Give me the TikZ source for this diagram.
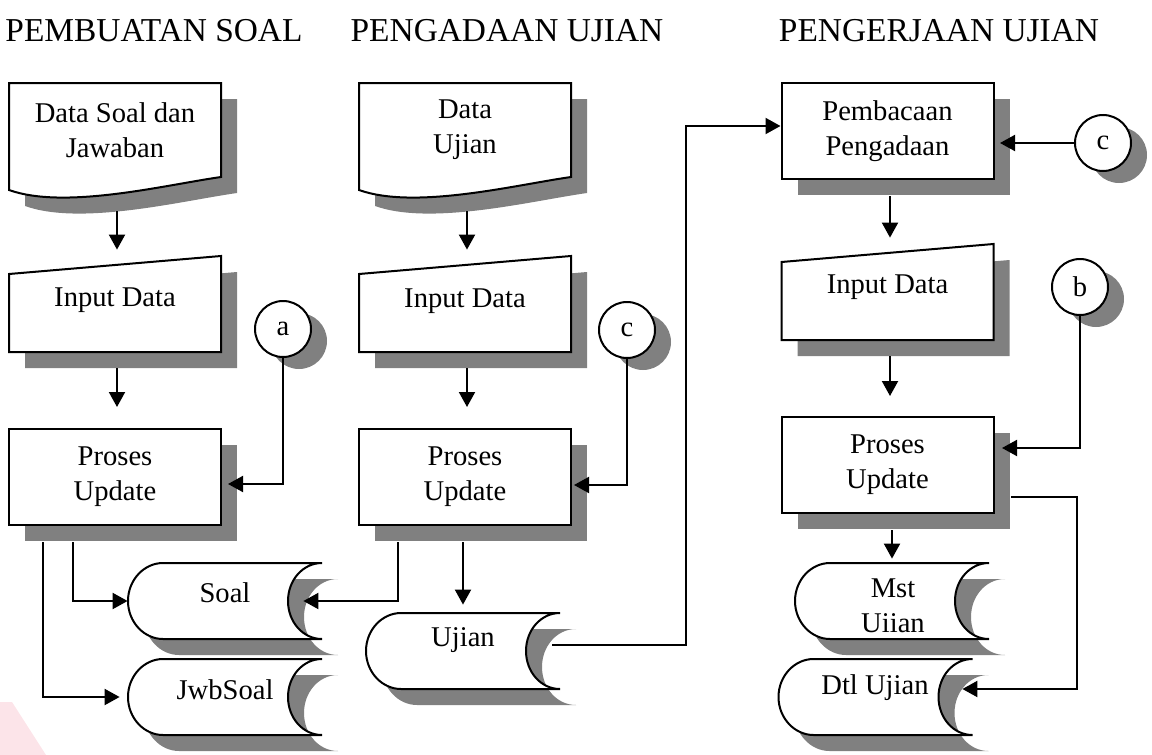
\documentclass[tikz,border=0pt]{standalone}
\usepackage{fontspec}
\setmainfont{Liberation Serif}
\usetikzlibrary{arrows.meta,shadows,calc}
\definecolor{shadowgray}{RGB}{128,128,128}
\definecolor{markpink}{RGB}{252,228,233}

\tikzset{
  lbl/.style={font=\fontsize{14.3}{17.5}\selectfont, align=center, inner sep=0pt},
  head/.style={font=\fontsize{16.7}{19}\selectfont, inner sep=0pt},
  outline/.style={draw=black, fill=white, line width=1pt},
  shadowfill/.style={fill=shadowgray, draw=none},
  procbox/.style={outline, rectangle, minimum width=106pt, minimum height=48pt,
    inner sep=0pt, lbl,
    drop shadow={shadow xshift=8pt, shadow yshift=-8pt, fill=shadowgray, opacity=1}},
  conn/.style={outline, circle, minimum size=28pt, inner sep=0pt, lbl,
    drop shadow={shadow xshift=8pt, shadow yshift=-6pt, fill=shadowgray, opacity=1}},
  holder/.style 2 args={rectangle, draw=none, inner sep=0pt,
    minimum width=#1, minimum height=#2},
  flow/.style={line width=1pt, -{Triangle[length=7.5pt,width=8pt]}},
}

% a shape drawn twice around a node centre: grey copy offset, then white outline
\newcommand\shadowed[2]{%
  \path[shadowfill, shift={($(#1.center)+(16,16)$)}] #2;
  \path[outline, shift={(#1.center)}] #2;}
\newcommand\docshape[1]{\shadowed{#1}{(-106,-57) -- (106,-57) -- (106,37)
  .. controls (50,45) and (-50,70) .. (-106,50) -- cycle}}
\newcommand\inshape[1]{\shadowed{#1}{(-106,-30) -- (106,-48) -- (106,48)
  -- (-106,48) -- cycle}}
\newcommand\storeshape[1]{\shadowed{#1}{(-62,-38) -- (97,-38)
  .. controls (78,-38) and (63,-21) .. (63,0)
  .. controls (63,21) and (78,38) .. (97,38) -- (-62,38)
  .. controls (-81,38) and (-97,21) .. (-97,0)
  .. controls (-97,-21) and (-81,-38) .. (-62,-38) -- cycle}}

\begin{document}
\begin{tikzpicture}[x=0.5pt, y=-0.5pt]
\useasboundingbox (0,0) rectangle (1152,755);
\fill[markpink] (0,702) -- (12,702) -- (46,755) -- (0,755) -- cycle;

% column headings
\node[head] (h1) at (154,31) {PEMBUATAN SOAL};
\node[head] (h2) at (507,31) {PENGADAAN UJIAN};
\node[head] (h3) at (939,31) {PENGERJAAN UJIAN};

% documents
\node[holder={106pt}{57pt}] (d1) at (115,140) {};
\docshape{d1}
\node[lbl] (d1t) at (115,130) {Data Soal dan\\Jawaban};
\node[holder={106pt}{57pt}] (d2) at (465,140) {};
\docshape{d2}
\node[lbl] (d2t) at (465,130) {Data\\Ujian};

% manual inputs
\node[holder={106pt}{48pt}] (i1) at (115,304) {};
\inshape{i1}
\node[lbl] (i1t) at (115,300) {Input Data};
\node[holder={106pt}{48pt}] (i2) at (465,304) {};
\inshape{i2}
\node[lbl] (i2t) at (465,301) {Input Data};
\node[holder={106pt}{48pt}] (i3) at (887.5,292) {};
\inshape{i3}
\node[lbl] (i3t) at (887.5,287) {Input Data};

% processes
\node[procbox] (p1) at (115,477) {Proses\\Update};
\node[procbox] (p2) at (465,477) {Proses\\Update};
\node[procbox] (pb) at (887.5,131) {Pembacaan\\Pengadaan};
\node[procbox] (p3) at (887.5,465) {Proses\\Update};

% off-page connectors
\node[conn] (ca) at (283,329) {a};
\node[conn] (cc1) at (627,330) {c};
\node[conn] (cc2) at (1103,143) {c};
\node[conn] (cb) at (1080,287) {b};

% stored data
\node[holder={97pt}{38pt}] (s1) at (225,601) {};
\storeshape{s1}
\node[lbl] (s1t) at (225,593) {Soal};
\node[holder={97pt}{38pt}] (s2) at (225,697) {};
\storeshape{s2}
\node[lbl] (s2t) at (225,690) {JwbSoal};
\node[holder={97pt}{38pt}] (s3) at (463,651) {};
\storeshape{s3}
\node[lbl] (s3t) at (463,640) {Ujian};
\node[holder={97pt}{38pt}] (s4) at (892,601) {};
\storeshape{s4}
\node[lbl] (s4t) at (893,606) {Mst\\Uiian};
\node[holder={97pt}{38pt}] (s5) at (875.5,697) {};
\storeshape{s5}
\node[lbl] (s5t) at (875,688) {Dtl Ujian};

% flow lines
\draw[flow] ([xshift=1pt,yshift=-7pt]d1.south) -- ([xshift=1pt,yshift=3pt]i1.north);
\draw[flow] ([xshift=1pt,yshift=-7pt]d2.south) -- ([xshift=1pt,yshift=3pt]i2.north);
\draw[flow] ([xshift=1pt,yshift=-8pt]i1.south) -- ([xshift=1pt,yshift=10.5pt]p1.north);
\draw[flow] ([xshift=1pt,yshift=-8pt]i2.south) -- ([xshift=1pt,yshift=10.5pt]p2.north);
\draw[flow] (ca.south) |- ([xshift=3pt,yshift=-3.5pt]p1.east);
\draw[flow] (cc1.south) |- ([xshift=1pt,yshift=-4pt]p2.east);
\draw[flow] ([xshift=-21pt,yshift=-8pt]p1.south) |- (s1.west);
\draw[flow, shorten >=4pt] ([xshift=-36pt,yshift=-8pt]p1.south) |- (s2.west);
\draw[flow] ([xshift=-33.5pt,yshift=-8pt]p2.south) |- ([xshift=-9.5pt]s1.east);
\draw[flow] ([xshift=-1pt,yshift=-8pt]p2.south) -- ([yshift=4pt]s3.north);
\draw[flow] ([xshift=-4pt,yshift=3pt]s3.east) -- ++(134,0) |- ([yshift=2.5pt]pb.west);
\draw[flow] (cc2.west) -- ([xshift=2.75pt,yshift=-6pt]pb.east);
\draw[flow] ([xshift=1.25pt,yshift=-8pt]pb.south) -- ([xshift=1.25pt,yshift=3pt]i3.north);
\draw[flow] ([xshift=1.25pt,yshift=-8pt]i3.south) -- ([xshift=1.25pt,yshift=10pt]p3.north);
\draw[flow] (cb.south) |- ([xshift=3.75pt,yshift=8.5pt]p3.east);
\draw[flow] ([xshift=8.25pt,yshift=-16pt]p3.east) -- ++(66,0) |- ([xshift=-5.25pt,yshift=4pt]s5.east);
\draw[flow] ([xshift=2.25pt,yshift=-8pt]p3.south) -- ([yshift=2pt]s4.north);
\end{tikzpicture}
\end{document}
